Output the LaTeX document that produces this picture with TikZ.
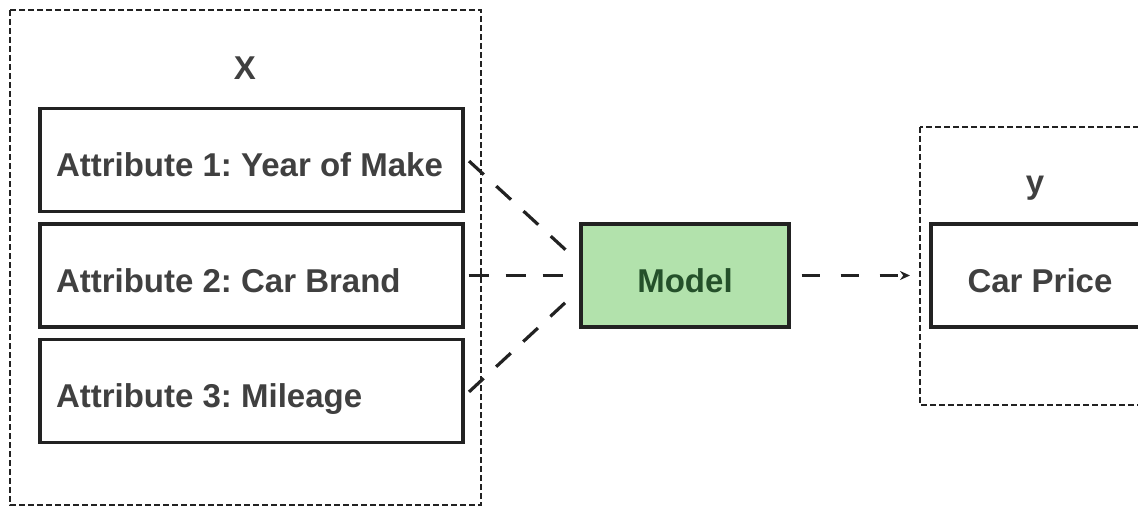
\documentclass[tikz,border=0pt]{standalone}
\usepackage{fontspec}
\setmainfont{Liberation Sans}
\usepackage{xcolor}
\usetikzlibrary{arrows.meta}

\definecolor{boxline}{HTML}{222222}
\definecolor{textgray}{HTML}{404040}
\definecolor{modelfill}{HTML}{B2E2AC}
\definecolor{modeltext}{HTML}{24502A}
\frenchspacing
\newcommand{\attrtext}[1]{\makebox[391pt][l]{#1}}

\begin{document}
\begin{tikzpicture}[x=1pt,y=-1pt,
  font=\fontsize{33}{38}\selectfont\bfseries,
  group/.style={draw=boxline,line width=2.8pt,dash pattern=on 6pt off 3pt},
  box/.style={draw=boxline,line width=3.2pt,text=textgray,text height=33pt,text depth=0pt,minimum height=103pt},
  attr/.style={box,inner xsep=16pt,minimum width=423pt},
  link/.style={draw=boxline,line width=3.2pt,dash pattern=on 20pt off 17pt}]
\useasboundingbox (0,0) rectangle (1138,508);

%Group boxes
\draw[group] (10,10) rectangle (481,505);
\draw[group] (920,127) rectangle (1170,405);

% Text Node
\node[text=textgray] (xlabel) at (245,68) {X};
\node[text=textgray] (ylabel) at (1035,188) {y};

%Attribute boxes
\node[attr] (attrone) at (251.5,160) {\attrtext{Attribute 1: Year of Make}};
\node[attr] (attrtwo) at (251.5,275.5) {\attrtext{Attribute 2: Car Brand}};
\node[attr] (attrthree) at (251.5,391) {\attrtext{Attribute 3: Mileage}};

%Model and output
\node[box,fill=modelfill,text=modeltext,minimum width=208pt] (model) at (685,275.5) {Model};
\node[box,minimum width=218pt] (price) at (1040,275.5) {Car Price};
\coordinate (ybox) at (920,275.5);

%Connectors
\draw[link,shorten <=6pt,shorten >=4pt] ([yshift=3pt]attrone.east) -- ([yshift=13pt]model.west);
\draw[link,shorten <=4pt,shorten >=4pt] (attrtwo.east) -- (model.west);
\draw[link,shorten <=6pt,shorten >=4pt] ([yshift=-5pt]attrthree.east) -- ([yshift=-14pt]model.west);
\draw[link,dash pattern=on 18pt off 21pt,shorten <=11pt,shorten >=10pt,-{Stealth[length=10pt,width=9pt]}] (model.east) -- (ybox);

\end{tikzpicture}
\end{document}
